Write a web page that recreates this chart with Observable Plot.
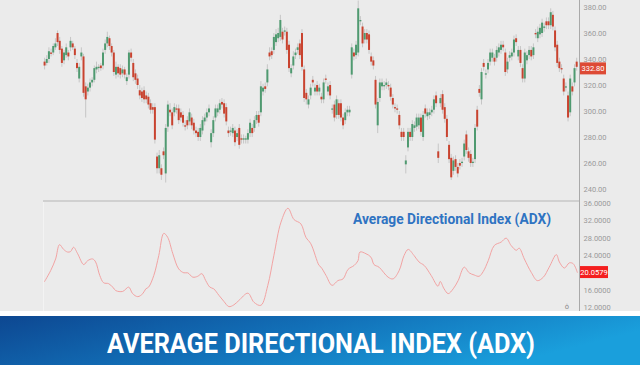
<!DOCTYPE html>
<html><head><meta charset="utf-8">
<script src="https://cdn.jsdelivr.net/npm/d3@7"></script>
<script src="https://cdn.jsdelivr.net/npm/@observablehq/plot@0.6"></script>
<style>
html,body{margin:0;padding:0;background:#ebebeb;width:640px;height:365px;overflow:hidden;font-family:Roboto,sans-serif}
#wrap{position:relative;width:640px;height:365px}
.abs{position:absolute;left:0}
svg{overflow:visible}
</style></head><body><div id="wrap"></div>
<script>
const opens = [338,337,340,345,345,349,360,354,348,339,343,345,349,352,348,337,325,342,342,319,315,318,322,324,332,333,335,335,347,352,356,350,345,328,334,333,329,332,323,328,
345,337,329,325,316,315,316,312,311,306,303,303,265,256,256,269,252,288,301,299,299,302,302,299,297,289,293,292,295,291,285,284,280,285,292,295,299,276,283,295,299,301,
307,306,303,285,284,283,285,280,287,279,278,278,278,283,287,287,293,297,299,315,319,322,345,346,347,353,356,357,361,361,361,351,329,335,343,347,352,360,332,314,305,312,
324,315,320,315,311,309,325,315,320,301,305,297,306,306,295,293,299,299,328,345,343,345,369,365,355,360,359,342,339,324,289,310,319,319,320,320,318,310,303,302,297,284,
284,259,272,284,280,287,288,289,295,280,302,296,297,299,301,312,269,306,313,303,294,274,264,254,263,257,260,260,265,282,269,267,260,263,301,317,309,337,328,332,338,
341,341,341,345,347,351,345,332,341,342,345,356,342,347,333,325,339,343,347,343,360,356,359,360,364,369,369,366,374,362,351,338,333,325,318,312,299,319,322,338];
const closes = [335,340,346,344,350,352,353,347,337,345,349,342,354,349,343,333,334,345,314,309,318,322,324,333,334,334,333,345,352,357,350,345,330,334,329,328,332,328,326,345,
341,326,324,320,312,310,309,309,305,301,301,278,256,266,251,266,287,305,299,289,303,301,293,295,291,288,289,299,289,285,283,280,287,293,295,299,302,283,293,302,302,306,
305,298,292,283,285,287,276,283,274,278,279,279,283,291,283,293,297,291,319,318,317,332,342,343,357,359,360,370,355,362,347,333,333,342,345,349,343,334,310,309,309,318,
322,318,315,318,309,322,324,319,312,302,295,309,297,295,289,299,301,301,349,342,351,379,370,352,360,355,347,338,335,305,307,322,322,320,322,319,311,305,302,301,289,280,
280,262,284,280,290,289,295,295,284,297,298,299,299,301,309,306,264,310,301,294,280,263,249,262,257,252,258,261,275,270,264,260,261,287,288,314,330,334,329,337,345,
345,338,347,349,351,349,330,338,343,345,355,353,347,337,325,345,343,347,342,349,359,361,364,368,365,366,366,376,365,349,337,333,332,315,319,295,325,315,333,334];
const highs = [341,343,349,348,352,356,362,357,350,347,352,347,357,354,350,340,337,349,344,322,321,325,326,335,338,336,337,348,355,361,358,352,347,338,336,336,335,334,329,347,
348,340,332,328,320,318,319,315,314,309,306,306,268,270,259,272,290,308,306,302,306,305,305,302,300,293,296,302,298,294,288,287,290,296,298,302,305,286,296,305,305,309,
310,309,306,288,288,290,288,286,290,282,282,281,286,294,290,296,300,300,323,321,322,336,349,349,360,363,364,374,364,365,364,354,336,346,348,352,355,363,335,317,312,321,
327,321,323,321,314,325,328,322,323,305,308,312,309,309,298,302,304,304,352,348,354,385,373,368,363,363,362,345,342,327,310,325,325,323,325,323,321,313,306,305,300,287,
287,266,287,287,293,292,298,298,298,300,305,302,302,304,312,315,275,313,316,306,297,277,267,265,266,260,263,264,278,285,272,270,264,290,304,320,333,340,332,340,348,
348,344,350,352,354,354,348,341,346,348,358,359,350,350,336,348,346,350,350,352,363,365,367,371,368,372,372,379,377,365,354,341,336,328,322,315,328,322,336,341];
const lows = [332,335,337,342,343,347,350,344,334,336,341,339,346,347,340,330,322,339,311,295,312,315,319,322,329,330,331,332,344,349,347,342,327,325,326,325,326,325,320,325,
338,323,321,317,309,307,306,306,302,298,298,275,252,252,247,263,245,284,296,286,296,298,290,292,288,285,286,289,286,282,280,277,277,282,289,292,296,272,280,292,296,298,
302,295,289,280,281,280,273,277,271,275,275,275,275,280,280,284,290,288,296,312,314,319,339,340,344,350,353,354,352,358,344,330,326,332,340,344,340,331,307,305,302,309,
319,312,312,312,306,306,321,312,309,298,292,294,294,292,286,290,296,296,325,339,340,342,366,349,352,352,344,335,332,302,283,307,316,316,317,316,308,302,299,298,286,277,
277,252,269,277,277,284,285,286,281,277,295,293,294,296,298,303,260,303,298,291,277,260,247,251,254,249,255,257,262,267,261,257,257,260,285,311,305,331,325,329,335,
338,335,338,342,344,346,327,329,338,339,342,350,339,334,322,322,336,340,339,340,356,353,356,357,361,363,363,363,362,346,334,330,329,312,315,292,296,312,319,331];

const adxDay = [0,2.8,5.1,6.9,8.8,10.6,12,13.4,15.3,18.1,19.9,22.2,23.6,25.5,27.3,29.6,31.5,32.9,36.1,38.9,40.7,43.1,45.4,46.8,48.1,50.5,52.8,55.1,56.9,59.3,62,64.4,66.2,68.5,70.8,72.7,74.5,76.4,78.2,80.6,82.9,85.2,87.5,89.8,94,96.8,100,103.2,106,109.3,112.5,115.3,118.5,120.8,123.1,126.9,127.8,130.1,132.9,135.6,138,140.3,143.1,144.9,145.8,148.6,150.9,152.3,154.6,158.8,161.1,163.9,166.2,168.1,170.8,173.1,175.5,178.7,181.9,182.9,184.7,186.6,188.9,191.2,194,196.3,198.6,200.9,202.8,205.1,207.9,211.1,213.4,215.7,218.1,219.4,221.8,225,227.8,230.6,233.3,236.6,238,240.3,242.6,244.4,246.3];
const adxValue = [18.0,20.5,23.2,26.5,25.4,24.8,24.9,25.9,24.4,21.9,22.8,23.2,22.5,19.4,17.7,17.5,16.7,15.9,15.7,16.7,15.2,14.5,15.2,16.3,16.7,19.4,24.0,29.1,28.2,24.4,20.9,20.0,20.0,19.0,19.2,19.8,18.2,16.7,16.3,14.8,13.4,12.2,12.6,13.6,15.3,13.2,12.5,17.1,24.0,31.7,34.9,32.3,31.3,28.2,26.7,21.7,21.3,19.4,17.1,18.2,18.6,20.8,21.7,22.8,24.8,24.4,23.6,21.9,21.3,19.0,18.6,20.5,24.0,25.4,24.0,22.5,21.7,19.4,16.9,18.0,16.3,15.2,16.3,18.2,21.3,20.0,19.5,19.2,20.3,22.8,26.3,27.1,28.0,26.3,25.2,25.7,23.2,20.1,18.2,19.0,21.3,24.2,22.5,21.1,22.3,22.1,20.1];

const priceTicks = [240,260,280,300,320,340,360,380];
const adxTicks = [12,16,24,28,32,36];
const lastPrice = 332.80;
const lastAdx = 20.0579;
const panelTitle = "Average Directional Index (ADX)";
const bannerTitle = "AVERAGE DIRECTIONAL INDEX (ADX)";

const GREEN = "#4f9a70", RED = "#c9432f";
const candles = opens.map((o, i) => ({i, open: o, close: closes[i], high: highs[i], low: lows[i]}));
const adx = adxDay.map((d, k) => ({i: d, v: adxValue[k]}));
const xDomain = [-0.5, 247.3];
const wrap = document.getElementById("wrap");
const axisStyle = {background: "transparent", fontFamily: "Roboto, sans-serif", fontSize: "7.5px", color: "#9a9a9a", overflow: "visible"};

const priceChart = Plot.plot({
  width: 640, height: 201, marginLeft: 43, marginRight: 61, marginTop: 0, marginBottom: 0,
  style: axisStyle,
  x: {domain: xDomain, axis: null},
  y: {domain: [230.8, 385.4], axis: "right", ticks: priceTicks, tickFormat: d => d.toFixed(2), tickSize: 0, tickPadding: 4, label: null},
  color: {type: "identity"},
  marks: [
    Plot.ruleX(candles, {x: "i", y1: "low", y2: "high", stroke: "#c6c6c6", strokeWidth: 1}),
    Plot.ruleX(candles, {x: "i", y1: "open", y2: d => (Math.abs(d.close - d.open) < 0.8 ? d.open + (d.close >= d.open ? 0.9 : -0.9) : d.close), stroke: d => d.close >= d.open ? GREEN : RED, strokeWidth: 2})
  ]
});
priceChart.classList.add("abs"); priceChart.style.top = "0px";
wrap.appendChild(priceChart);

const adxChart = Plot.plot({
  width: 640, height: 111, marginLeft: 43, marginRight: 61, marginTop: 0, marginBottom: 0,
  style: axisStyle,
  x: {domain: xDomain, axis: null},
  y: {domain: [10.84, 36.46], axis: "right", ticks: adxTicks, tickFormat: d => d.toFixed(4), tickSize: 0, tickPadding: 4, label: null},
  marks: [
    Plot.line(adx, {x: "i", y: "v", stroke: "#f2a3a3", strokeWidth: 1, curve: "catmull-rom"})
  ]
});
adxChart.classList.add("abs"); adxChart.style.top = "201px";
wrap.appendChild(adxChart);

function priceBadge(chart, value, text, fill, w) {
  const y = chart.scale("y").apply(value);
  const g = d3.select(chart).append("g");
  g.append("rect").attr("x", 580).attr("y", y - 6).attr("width", w).attr("height", 12).attr("fill", fill);
  g.append("text").attr("x", 580 + w / 2).attr("y", y).attr("dy", "0.35em").attr("text-anchor", "middle")
    .attr("fill", "#fff").attr("font-size", 7.5).attr("font-family", "Roboto, sans-serif").text(text);
}
priceBadge(priceChart, lastPrice, lastPrice.toFixed(2), "#dd4a35", 26);
priceBadge(adxChart, lastAdx, lastAdx.toFixed(4), "#f41f1f", 28);

d3.select(adxChart).append("text").attr("x", 353).attr("y", 22.5).attr("text-anchor", "start")
  .attr("textLength", 198).attr("lengthAdjust", "spacingAndGlyphs")
  .attr("fill", "#2f73c2").attr("font-size", 15).attr("font-weight", "bold")
  .attr("font-family", "Roboto, sans-serif").text(panelTitle);
d3.select(adxChart).append("text").attr("x", 567).attr("y", 108).attr("text-anchor", "middle")
  .attr("fill", "#888").attr("font-size", 7).attr("font-family", "DejaVu Sans").text("ȯ");

function line(css) { const d = document.createElement("div"); d.style.cssText = "position:absolute;" + css; wrap.appendChild(d); }
line("left:579px;top:0;width:1px;height:311px;background:#a9a9a9");
line("left:43px;top:200px;width:536px;height:2px;background:#d0d0d0");
line("left:43px;top:202px;width:1px;height:109px;background:#f3f3f3");
line("left:0;top:311px;width:640px;height:5px;background:#ffffff");

const banner = d3.create("svg").attr("width", 640).attr("height", 49)
  .style("position", "absolute").style("left", "0").style("top", "316px");
const grad = banner.append("defs").append("linearGradient").attr("id", "bg").attr("x1", "0").attr("x2", "1").attr("y1", "0").attr("y2", "0.3");
grad.append("stop").attr("offset", "0").attr("stop-color", "#0d4791");
grad.append("stop").attr("offset", "0.5").attr("stop-color", "#1270b8");
grad.append("stop").attr("offset", "1").attr("stop-color", "#1a9fdc");
banner.append("rect").attr("width", 640).attr("height", 49).attr("fill", "url(#bg)");
banner.append("text").attr("x", 107).attr("y", 37).attr("textLength", 428).attr("lengthAdjust", "spacingAndGlyphs")
  .attr("fill", "#ffffff").attr("font-size", 28).attr("font-weight", "bold")
  .attr("font-family", "Roboto, sans-serif").text(bannerTitle);
wrap.appendChild(banner.node());
</script></body></html>
